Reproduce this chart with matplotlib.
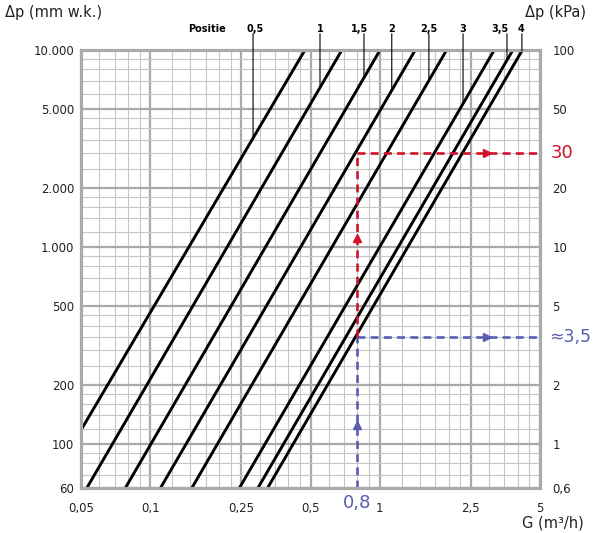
import numpy as np
import matplotlib.pyplot as plt
from matplotlib.transforms import blended_transform_factory

# valve positions and their characteristic lines (G in m3/h, dp in mm w.k.)
positions = ["0,5", "1", "1,5", "2", "2,5", "3", "3,5", "4"]
g_start = [0.05, 0.053, 0.078, 0.111, 0.152, 0.245, 0.295, 0.325]
dp_start = [118, 60, 60, 60, 60, 60, 60, 60]
g_end = [0.473, 0.685, 1.005, 1.43, 1.96, 3.16, 3.81, 4.19]
dp_end = [10000, 10000, 10000, 10000, 10000, 10000, 10000, 10000]

# where the position labels sit and where their leaders meet the lines
label_g = [0.2865, 0.55, 0.822, 1.13, 1.64, 2.31, 3.35, 4.15]
leader_g = [0.281, 0.55, 0.855, 1.13, 1.64, 2.31, 3.59, 4.17]

# reading example
g_read = 0.8
dp_red = 3000   # 30 kPa
dp_blue = 350   # ~3,5 kPa

x_major = [0.05, 0.1, 0.25, 0.5, 1, 2.5, 5]
x_labels = ["0,05", "0,1", "0,25", "0,5", "1", "2,5", "5"]
x_minor = [0.06, 0.07, 0.08, 0.09, 0.125, 0.15, 0.175, 0.2, 0.225,
           0.3, 0.35, 0.4, 0.45, 0.6, 0.7, 0.8, 0.9,
           1.25, 1.5, 1.75, 2, 2.25, 3, 3.5, 4, 4.5]
y_major = [60, 100, 200, 500, 1000, 2000, 5000, 10000]
y_labels = ["60", "100", "200", "500", "1.000", "2.000", "5.000", "10.000"]
y_minor = [70, 80, 90, 120, 140, 160, 180, 250, 300, 350, 400, 450,
           600, 700, 800, 900, 1200, 1400, 1600, 1800,
           2500, 3000, 3500, 4000, 4500, 6000, 7000, 8000, 9000]
kpa_ticks = [0.6, 1, 2, 5, 10, 20, 50, 100]
kpa_labels = ["0,6", "1", "2", "5", "10", "20", "50", "100"]

RED = "#d0122a"
BLUE = "#5a5eb0"
GRID = "#aaaaaa"

plt.rcParams["font.family"] = "DejaVu Sans"

fig = plt.figure(figsize=(5.97, 5.33), dpi=100)
ax = fig.add_axes([81 / 597, 45 / 533, 459 / 597, 438 / 533])
ax.set_xscale("log")
ax.set_yscale("log")
ax.set_xlim(x_major[0], x_major[-1])
ax.set_ylim(y_major[0], y_major[-1])

ax.set_xticks(x_major, x_labels)
ax.set_xticks(x_minor, minor=True)
ax.set_xticklabels([], minor=True)
ax.set_yticks(y_major, y_labels)
ax.set_yticks(y_minor, minor=True)
ax.set_yticklabels([], minor=True)
ax.tick_params(which="both", length=0, labelsize=8.5, colors="#222222")
ax.tick_params(axis="x", pad=10)
ax.tick_params(axis="y", pad=5)

ax.set_axisbelow(True)
ax.grid(which="major", color=GRID, lw=1.6)
ax.grid(which="minor", color="#c6c6c6", lw=0.8)
for sp in ax.spines.values():
    sp.set_color(GRID)
    sp.set_linewidth(2.3)
    sp.set_zorder(6)

# right axis in kPa
ax2 = ax.twinx()
ax2.set_yscale("log")
ax2.set_ylim(kpa_ticks[0], kpa_ticks[-1])
ax2.set_yticks(kpa_ticks, kpa_labels)
ax2.set_yticks([], minor=True)
ax2.tick_params(which="both", length=0, labelsize=8.5, pad=9, colors="#222222")
for sp in ax2.spines.values():
    sp.set_visible(False)

# characteristic lines
for g0, d0, g1, d1 in zip(g_start, dp_start, g_end, dp_end):
    ax.plot([g0, g1], [d0, d1], color="black", lw=2.1, zorder=3,
            solid_capstyle="butt")

# position labels with leaders
xtrans = ax.get_xaxis_transform()
for lab, gt, gl, g0, d0, g1, d1 in zip(positions, label_g, leader_g,
                                       g_start, dp_start, g_end, dp_end):
    dp_at = 10 ** np.interp(np.log10(gl), np.log10([g0, g1]),
                            np.log10([d0, d1]))
    ax.annotate("", xy=(gl, dp_at), xycoords="data",
                xytext=(gl, 1.037), textcoords=xtrans,
                arrowprops=dict(arrowstyle="-", lw=0.8, color="black",
                                shrinkA=0, shrinkB=0),
                annotation_clip=False, zorder=7)
    ax.text(gt, 1.048, lab, transform=xtrans, ha="center", va="center",
            fontsize=7, fontweight="bold")
ax.text(0.177, 1.048, "Positie", transform=xtrans, ha="center", va="center",
        fontsize=7, fontweight="bold")


def along(a, b, t):
    return a * (b / a) ** t


g_right = x_major[-1]
dp_bottom = y_major[0]
dash = dict(lw=1.9, dashes=(3, 2), zorder=5)

# blue reading: up from 0,8 and across to the kPa scale
ax.plot([g_read, g_read], [dp_bottom, dp_blue], color=BLUE, **dash)
ax.plot([g_read, g_right], [dp_blue, dp_blue], color=BLUE, **dash)
ax.plot(g_read, along(dp_bottom, dp_blue, 0.42), marker="^", ms=6,
        color=BLUE, zorder=5, clip_on=False)
ax.plot(along(g_read, g_right, 0.71), dp_blue, marker=">", ms=6,
        color=BLUE, zorder=5)

# red reading: continue up to 30 kPa and across
ax.plot([g_read, g_read], [dp_blue, dp_red], color=RED, **dash)
ax.plot([g_read, g_right], [dp_red, dp_red], color=RED, **dash)
ax.plot(g_read, along(dp_blue, dp_red, 0.54), marker="^", ms=6,
        color=RED, zorder=5)
ax.plot(along(g_read, g_right, 0.71), dp_red, marker=">", ms=6,
        color=RED, zorder=5)

rtrans = blended_transform_factory(ax.transAxes, ax.transData)
ax.text(1.023, dp_red, "30", transform=rtrans, color=RED, fontsize=13,
        ha="left", va="center")
ax.text(1.021, dp_blue, "≈3,5", transform=rtrans, color=BLUE, fontsize=12.5,
        ha="left", va="center")
ax.text(g_read, -0.035, "0,8", transform=xtrans, color=BLUE, fontsize=13,
        ha="center", va="center")

fig.text(5 / 597, 1 - 13 / 533, "Δp (mm w.k.)", ha="left", va="center",
         fontsize=10.5, color="#222222")
fig.text(586 / 597, 1 - 12 / 533, "Δp (kPa)", ha="right", va="center",
         fontsize=10.5, color="#222222")
fig.text(584 / 597, 1 - 523 / 533, "G (m³/h)", ha="right", va="center",
         fontsize=10.5, color="#222222")

fig.savefig("out.png", dpi=100)
